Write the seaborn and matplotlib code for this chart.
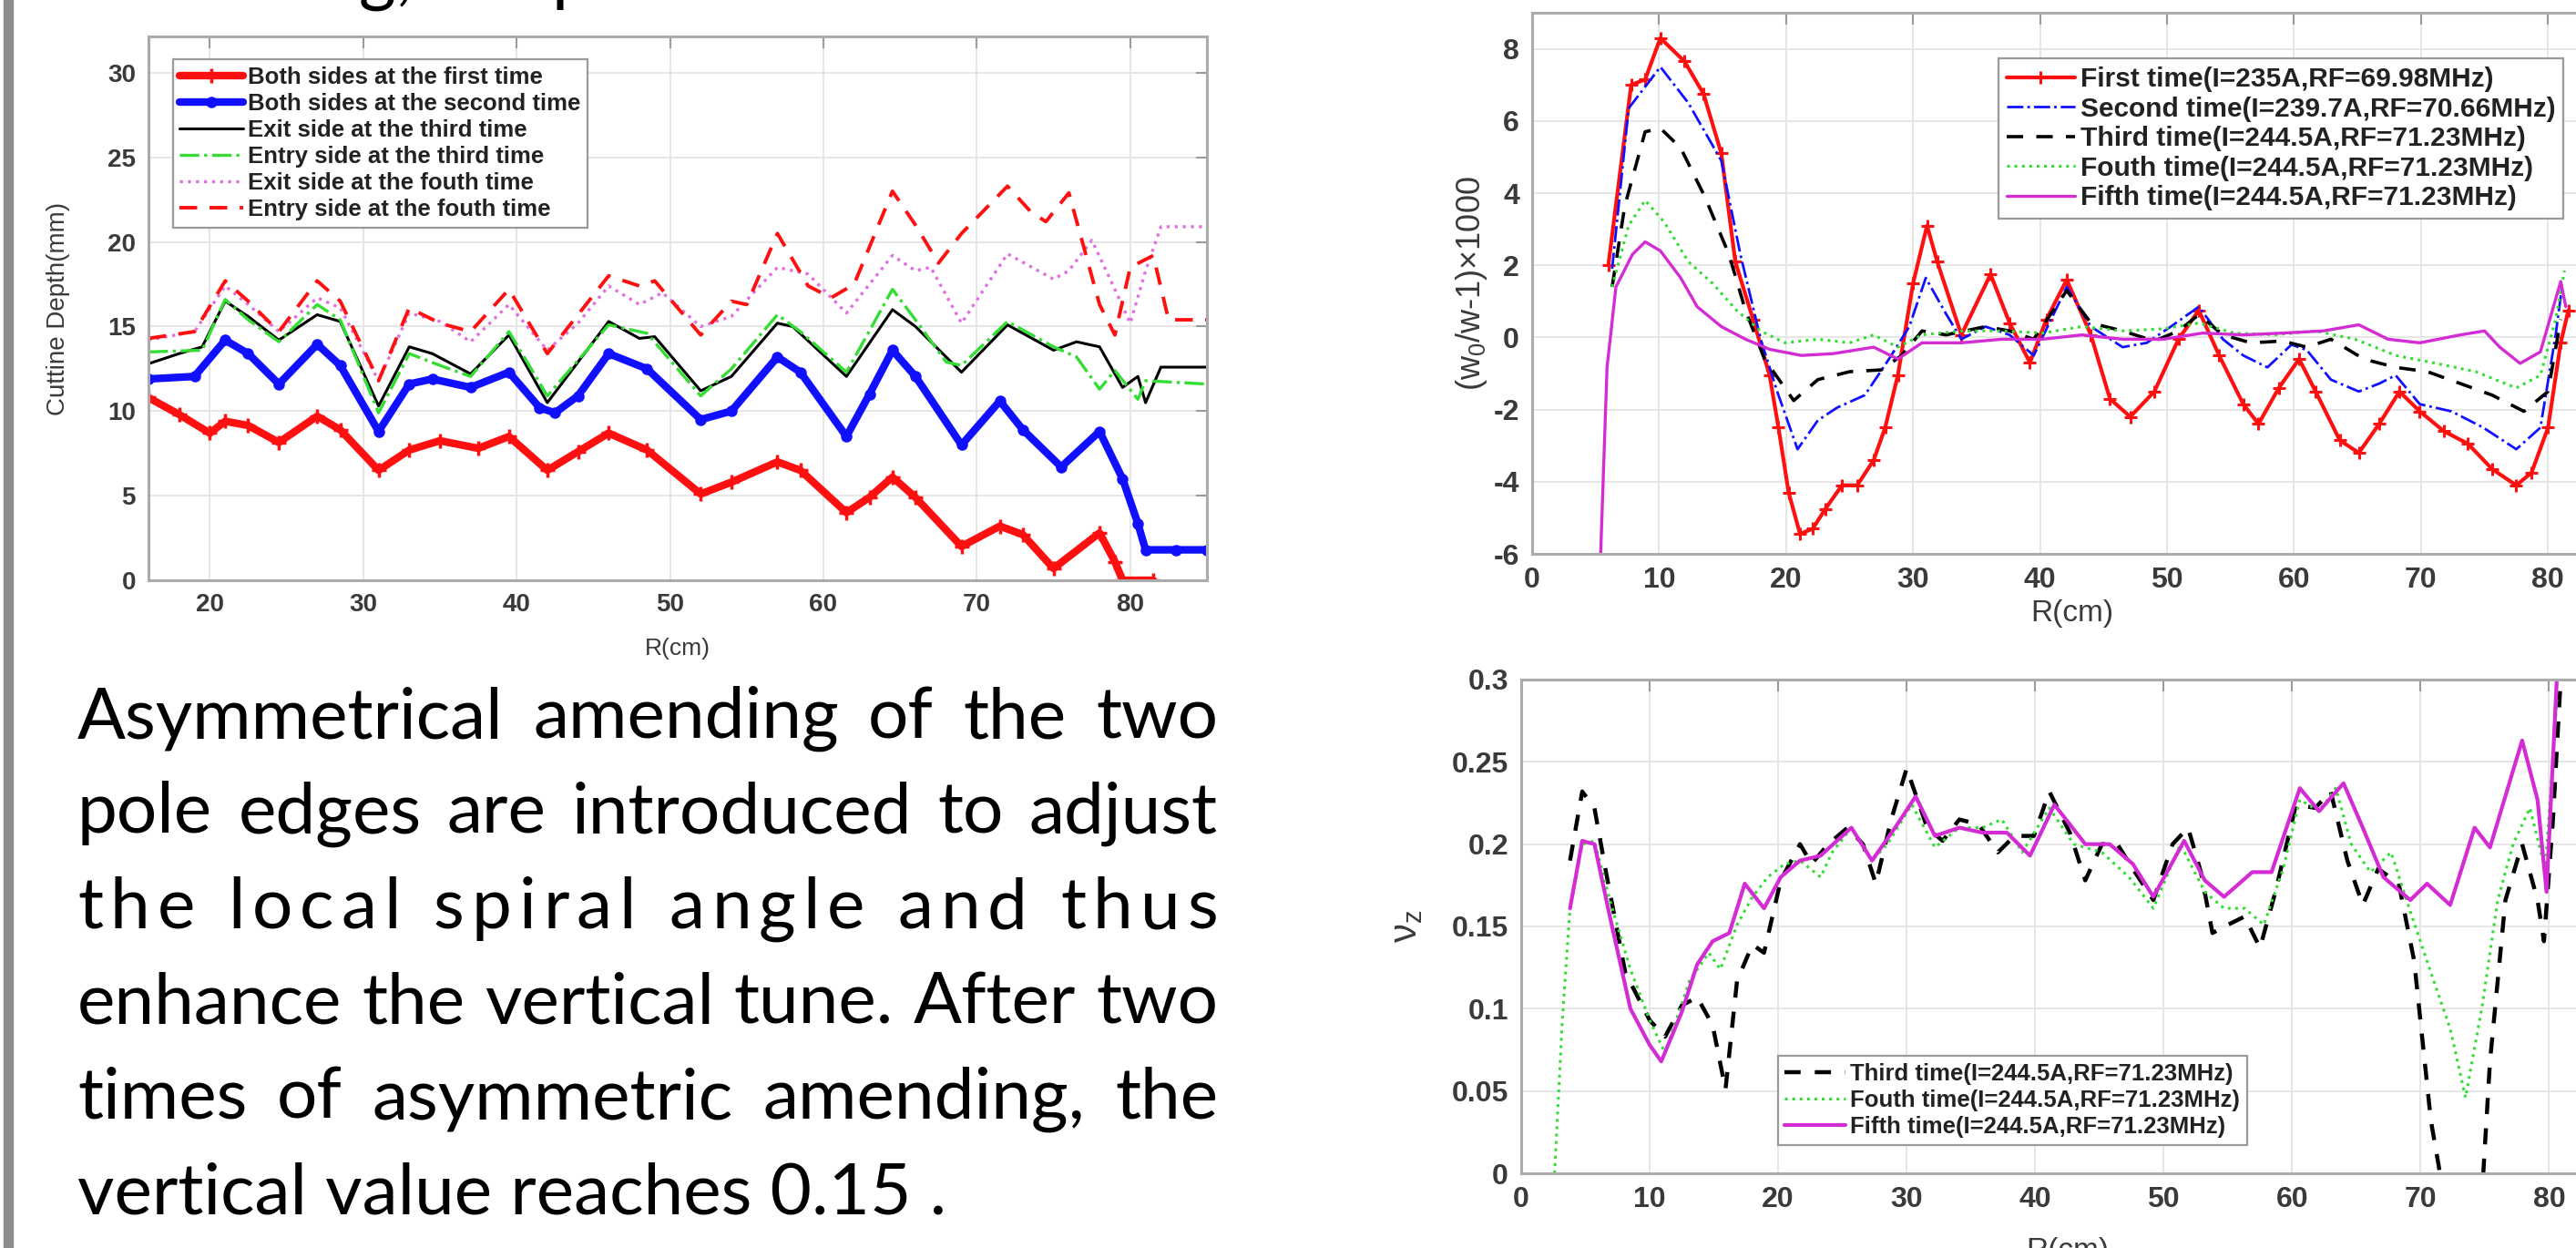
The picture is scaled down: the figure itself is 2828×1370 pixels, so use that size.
"""Cyclotron pole-edge amending slide: cutting depth, isochronism and vertical tune."""

import matplotlib
matplotlib.use("Agg")  # headless rendering
import matplotlib.pyplot as plt
import seaborn as sns
from matplotlib.patches import Rectangle
from matplotlib.ticker import FuncFormatter, MultipleLocator

# ---------------- left chart: cutting depth vs radius ----------------
cut_first_r = [16, 18, 20, 21, 22.5, 24.5, 27, 28.5, 31, 33, 35, 37.5, 39.5, 42, 44, 46, 48.5,
               52, 54, 57, 58.5, 61.5, 63, 64.5, 66, 69, 71.5, 73, 75, 78, 79, 79.5, 81.5]
cut_first_d = [10.8, 9.8, 8.7, 9.4, 9.15, 8.15, 9.7, 8.9, 6.5, 7.7, 8.25, 7.8, 8.5, 6.5, 7.6, 8.7, 7.7,
               5.1, 5.8, 7.0, 6.5, 4.0, 4.9, 6.1, 4.9, 2.0, 3.2, 2.7, 0.7, 2.8, 1.1, 0.0, 0.0]

cut_second_r = [16, 19, 21, 22.5, 24.5, 27, 28.5, 31, 33, 34.5, 37, 39.5, 41.5, 42.5, 44, 46, 48.5,
                52, 54, 57, 58.5, 61.5, 63, 64.5, 66, 69, 71.5, 73, 75.5, 78, 79.5, 80.5, 81, 83, 85]
cut_second_d = [11.9, 12.05, 14.2, 13.4, 11.6, 13.95, 12.7, 8.8, 11.6, 11.9, 11.4, 12.3, 10.2, 9.9, 10.9,
                13.4, 12.5, 9.5, 10.0, 13.2, 12.3, 8.5, 11.0, 13.6, 12.05, 8.0, 10.6, 8.9, 6.7, 8.8,
                6.0, 3.35, 1.8, 1.8, 1.8]

cut_exit3_r = [16, 18, 19.5, 21, 22.5, 24.5, 27, 28.5, 31, 33, 34.5, 37, 39.5, 42, 46, 48, 49,
               52, 54, 57, 58, 61.5, 64.5, 66, 69, 72, 75, 76.5, 78, 79.5, 80.5, 81, 82, 85]
cut_exit3_d = [12.8, 13.4, 13.8, 16.5, 15.6, 14.2, 15.7, 15.3, 10.3, 13.8, 13.4, 12.2, 14.5, 10.5,
               15.3, 14.3, 14.4, 11.2, 12.05, 15.2, 15.0, 12.05, 16.0, 15.0, 12.3, 15.1, 13.6, 14.1,
               13.8, 11.4, 12.05, 10.5, 12.6, 12.6]

cut_entry3_r = [16, 19.5, 21, 22.5, 24.5, 27, 28.5, 31, 33, 35, 37, 39.5, 42, 46, 48.5, 52, 54,
                57, 58.5, 61.5, 64.5, 66, 68, 69, 72, 75, 76.5, 78, 79, 80.5, 81, 85]
cut_entry3_d = [13.5, 13.6, 16.6, 15.4, 14.1, 16.3, 15.4, 9.9, 13.4, 12.7, 12.05, 14.7, 10.9, 15.1,
                14.6, 10.9, 12.5, 15.7, 14.7, 12.3, 17.2, 15.4, 12.9, 12.7, 15.3, 13.8, 13.2, 11.3,
                12.4, 10.7, 11.8, 11.6]

cut_exit4_r = [16, 19, 21, 22.5, 24.5, 27, 28.5, 31, 33, 35, 37, 39.5, 42, 44, 46, 48, 49.5, 52,
               54, 57, 59, 61.5, 64.5, 66, 67, 69, 72, 75, 76, 77.5, 79, 80, 81, 82, 85]
cut_exit4_d = [14.2, 14.7, 17.4, 16.3, 14.7, 16.7, 16.1, 11.8, 15.8, 15.3, 14.1, 16.3, 13.6, 15.2,
               17.4, 16.3, 17.0, 15.0, 15.6, 18.5, 18.1, 15.8, 19.2, 18.3, 18.5, 15.2, 19.3, 17.8,
               18.3, 20.1, 17.2, 15.2, 18.3, 20.9, 20.9]

cut_entry4_r = [16, 19, 21, 22.5, 24.5, 27, 28.5, 31, 33, 35, 37, 39.5, 42, 46, 48, 49, 52, 54, 55,
                57, 59, 60.5, 62, 64.5, 66, 67.5, 69, 72, 73.5, 74.5, 76, 78, 79, 80, 81.5, 82.5, 85]
cut_entry4_d = [14.3, 14.7, 17.7, 16.5, 14.7, 17.7, 16.5, 11.8, 16.1, 15.2, 14.7, 17.2, 13.4, 18.0,
                17.4, 17.7, 14.5, 16.5, 16.3, 20.5, 17.4, 16.7, 17.5, 23.0, 21.0, 18.75, 20.5, 23.3,
                21.8, 21.2, 22.9, 16.3, 14.5, 18.5, 19.2, 15.4, 15.4]

cut_labels = ["Both sides at the first time", "Both sides at the second time",
              "Exit side at the third time", "Entry side at the third time",
              "Exit side at the fouth time", "Entry side at the fouth time"]

# ---------------- right top: (w0/w-1) x 1000 vs radius ----------------
w_first_r = [6.0, 7.8, 8.9, 10.1, 12.0, 13.5, 14.9, 16.0, 17.4, 18.7, 19.4, 20.2, 21.1, 22.1, 23.1,
             24.4, 25.6, 26.9, 27.8, 28.8, 30.0, 31.1, 31.9, 33.8, 36.1, 37.6, 39.2, 40.5, 42.1,
             44.0, 45.5, 47.1, 49.0, 50.9, 52.5, 54.1, 56.0, 57.2, 58.8, 60.4, 61.7, 63.6, 65.1,
             66.7, 68.3, 69.9, 71.8, 73.7, 75.6, 77.5, 78.7, 80.0, 81.0, 81.6]
w_first = [2.0, 7.0, 7.15, 8.3, 7.65, 6.75, 5.1, 2.1, 0.5, -1.05, -2.5, -4.3, -5.45, -5.3, -4.75,
           -4.1, -4.1, -3.4, -2.5, -1.05, 1.5, 3.1, 2.1, 0.07, 1.75, 0.4, -0.7, 0.5, 1.6,
           0.07, -1.7, -2.2, -1.5, -0.05, 0.75, -0.5, -1.85, -2.4, -1.4, -0.6, -1.5, -2.85, -3.2,
           -2.4, -1.5, -2.05, -2.6, -2.95, -3.65, -4.1, -3.75, -2.5, -0.15, 0.75]

w_second_r = [6.3, 7.6, 10.1, 12.3, 14.9, 16.4, 18.0, 19.3, 20.9, 22.5, 24.0, 26.2, 28.1, 29.7,
              31.0, 32.6, 33.8, 35.7, 37.6, 39.5, 42.1, 44.0, 46.5, 48.4, 50.3, 52.5, 54.4, 56.0,
              57.9, 59.8, 61.0, 62.9, 65.1, 66.7, 68.0, 69.9, 72.4, 74.9, 77.5, 79.4, 80.6, 81.1]
w_second = [1.9, 6.35, 7.5, 6.5, 4.9, 2.3, -0.05, -1.5, -3.1, -2.3, -1.95, -1.6, -0.6, 0.3,
            1.65, 0.65, -0.05, 0.3, 0.07, -0.5, 1.4, 0.3, -0.27, -0.15, 0.3, 0.85, -0.05, -0.5,
            -0.83, -0.2, -0.35, -1.17, -1.5, -1.28, -1.05, -1.85, -2.05, -2.5, -3.1, -2.5, 0.07, 1.4]

w_third_r = [6.3, 7.3, 8.9, 10.1, 11.7, 13.6, 15.5, 16.8, 18.3, 20.6, 22.5, 25.0, 27.5, 29.1, 30.7,
             32.6, 35.7, 37.6, 39.5, 42.1, 44.0, 46.5, 49.0, 50.9, 52.5, 54.4, 56.6, 59.1, 61.0,
             62.9, 65.5, 68.0, 70.5, 73.1, 75.6, 78.1, 80.0, 81.0]
w_third = [1.4, 3.65, 5.7, 5.8, 5.25, 3.9, 2.3, 0.75, -0.6, -1.75, -1.17, -0.95, -0.9, -0.5, 0.18,
           0.07, 0.3, 0.18, -0.05, 1.3, 0.4, 0.18, -0.1, 0.18, 0.63, 0.07, -0.15, -0.1, -0.27,
           -0.05, -0.6, -0.83, -0.95, -1.28, -1.6, -2.05, -1.5, 0.5]

w_fourth_r = [6.3, 7.6, 8.9, 10.4, 12.3, 14.2, 16.1, 18.0, 19.9, 22.5, 25.0, 26.9, 28.8, 30.7,
              33.8, 37.0, 40.2, 43.3, 46.5, 49.7, 52.5, 55.3, 58.5, 61.7, 64.8, 68.0, 71.2, 74.3,
              77.5, 79.4, 80.6, 81.3]
w_fourth = [1.4, 3.1, 3.8, 3.2, 2.1, 1.5, 0.75, 0.18, -0.15, -0.05, -0.15, 0.07, -0.27, 0.07,
            0.18, 0.18, 0.12, 0.3, 0.18, 0.24, 0.4, 0.12, 0.07, 0.18, -0.05, -0.5, -0.72, -0.95,
            -1.4, -1.05, 0.5, 1.85]

w_fifth_r = [5.3, 5.9, 6.6, 7.9, 8.9, 10.1, 11.7, 13.0, 14.9, 16.8, 18.7, 21.2, 23.7, 26.9, 28.8,
             30.7, 33.8, 37.0, 40.2, 43.3, 46.5, 49.7, 52.8, 56.0, 59.1, 62.3, 65.1, 67.4, 69.9,
             73.1, 75.0, 76.2, 77.8, 79.4, 81.0, 81.4]
w_fifth = [-7.0, -0.83, 1.4, 2.3, 2.65, 2.4, 1.65, 0.85, 0.3, -0.05, -0.33, -0.5, -0.45, -0.27,
           -0.6, -0.15, -0.15, -0.05, -0.05, 0.07, -0.05, -0.05, 0.12, 0.07, 0.12, 0.18, 0.35,
           -0.05, -0.15, 0.07, 0.18, -0.27, -0.72, -0.4, 1.55, 0.85]

w_labels = ["First time(I=235A,RF=69.98MHz)", "Second time(I=239.7A,RF=70.66MHz)",
            "Third time(I=244.5A,RF=71.23MHz)", "Fouth time(I=244.5A,RF=71.23MHz)",
            "Fifth time(I=244.5A,RF=71.23MHz)"]

# ---------------- right bottom: vertical tune vs radius ----------------
nu_third_r = [3.8, 4.75, 5.7, 6.6, 8.1, 10.0, 11.2, 12.5, 13.7, 14.9, 15.9, 16.8, 18.0, 18.9, 20.2,
              21.7, 22.6, 23.9, 25.4, 26.6, 27.6, 28.8, 30.0, 31.6, 32.8, 34.1, 35.6, 37.1, 38.4,
              39.9, 41.1, 42.7, 43.9, 45.2, 46.4, 47.6, 49.2, 50.7, 51.9, 52.9, 53.8, 55.0, 56.3,
              57.5, 58.7, 60.3, 61.8, 63.0, 64.3, 65.5, 66.7, 68.3, 69.5, 70.8, 71.4, 71.7, 74.8,
              75.4, 76.6, 77.9, 79.1, 79.6, 80.3, 80.9]
nu_third = [0.19, 0.232, 0.222, 0.183, 0.122, 0.093, 0.083, 0.102, 0.107, 0.09, 0.051, 0.117,
            0.139, 0.134, 0.178, 0.2, 0.188, 0.2, 0.21, 0.2, 0.176, 0.215, 0.246, 0.21, 0.202,
            0.215, 0.212, 0.195, 0.205, 0.205, 0.232, 0.207, 0.178, 0.2, 0.2, 0.185, 0.166, 0.2,
            0.21, 0.183, 0.146, 0.151, 0.156, 0.137, 0.171, 0.224, 0.222, 0.232, 0.19, 0.163,
            0.185, 0.176, 0.129, 0.032, 0.005, -0.01, -0.01, 0.068, 0.166, 0.2, 0.166, 0.141,
            0.215, 0.3]

nu_fourth_r = [2.6, 3.2, 3.8, 4.75, 5.7, 6.9, 8.5, 10.0, 11.2, 13.1, 14.6, 15.5, 16.8, 18.0, 19.2,
               20.5, 21.7, 23.3, 24.2, 25.7, 27.3, 28.5, 30.4, 32.2, 34.1, 35.9, 37.4, 39.0, 41.1,
               43.0, 45.2, 47.3, 49.2, 51.3, 53.2, 54.7, 56.3, 57.8, 59.3, 60.6, 62.1, 63.4, 64.6,
               66.1, 67.7, 69.2, 70.8, 72.3, 73.5, 74.8, 76.0, 77.2, 78.5, 79.7, 80.6]
nu_fourth = [0.0, 0.093, 0.161, 0.2, 0.202, 0.166, 0.124, 0.093, 0.073, 0.117, 0.134, 0.124, 0.151,
             0.168, 0.18, 0.188, 0.19, 0.18, 0.195, 0.21, 0.19, 0.2, 0.224, 0.198, 0.21, 0.21,
             0.215, 0.195, 0.222, 0.2, 0.195, 0.18, 0.161, 0.2, 0.171, 0.161, 0.161, 0.151, 0.185,
             0.227, 0.22, 0.234, 0.2, 0.183, 0.195, 0.159, 0.122, 0.088, 0.046, 0.102, 0.166, 0.2,
             0.222, 0.185, 0.288]

nu_fifth_r = [3.8, 4.75, 5.7, 6.9, 8.5, 10.0, 10.9, 12.5, 13.7, 14.9, 16.2, 17.4, 18.9, 20.2, 21.7,
              23.3, 25.7, 27.3, 29.1, 30.7, 32.2, 34.1, 35.9, 37.8, 39.6, 41.5, 43.9, 45.8, 47.6,
              49.2, 51.6, 53.2, 54.7, 56.9, 58.4, 60.6, 62.1, 64.0, 65.5, 67.1, 69.2, 70.5, 72.3,
              74.2, 75.4, 77.9, 79.1, 79.8, 80.6, 80.9]
nu_fifth = [0.161, 0.202, 0.2, 0.156, 0.1, 0.078, 0.068, 0.098, 0.127, 0.141, 0.146, 0.176, 0.161,
            0.18, 0.19, 0.193, 0.21, 0.19, 0.21, 0.229, 0.205, 0.21, 0.207, 0.207, 0.193, 0.224,
            0.2, 0.2, 0.188, 0.168, 0.202, 0.178, 0.168, 0.183, 0.183, 0.234, 0.22, 0.237, 0.21,
            0.18, 0.166, 0.176, 0.163, 0.21, 0.198, 0.263, 0.227, 0.171, 0.3, 0.33]

nu_labels = w_labels[2:]

# ---------------- slide text ----------------
top_fragment = "Amending, the pole"
para_lines = ["Asymmetrical amending  of the two",
              "pole edges are introduced to adjust",
              "the local spiral angle and thus",
              "enhance the vertical tune. After two",
              "times of asymmetric amending, the",
              "vertical value reaches 0.15 ."]
para_modes = ["words", "words", "chars", "words", "words", "left"]

W, H = 2828, 1370
sns.set_style("white")
plt.rcParams["font.family"] = ["Liberation Sans", "DejaVu Sans"]
plt.rcParams["font.weight"] = "bold"
plt.rcParams["mathtext.default"] = "regular"

RED, BLUE, GREEN, MAG = "#ff1010", "#1010ff", "#33dd33", "#d42cd4"
TXT = "#3a3a3a"
fmt = FuncFormatter(lambda v, _: f"{v:g}")

fig = plt.figure(figsize=(W / 100, H / 100), dpi=100)
fig.patch.set_facecolor("white")


def style_axes(ax, xstep, ystep, size):
    ax.xaxis.set_major_locator(MultipleLocator(xstep))
    ax.yaxis.set_major_locator(MultipleLocator(ystep))
    ax.xaxis.set_major_formatter(fmt)
    ax.yaxis.set_major_formatter(fmt)
    ax.grid(True, color="#e4e4e4", lw=1.3)
    ax.set_axisbelow(True)
    ax.tick_params(direction="in", length=9, width=1.5, color="#9a9a9a", top=True, right=True,
                   labelsize=size, labelcolor=TXT, pad=10)
    for s in ax.spines.values():
        s.set_color("#ababab")
        s.set_linewidth(2.2)


def line(ax, r, v, label, **kw):
    sns.lineplot(x=r, y=v, ax=ax, label=label, sort=False, estimator=None, errorbar=None,
                 legend=False, **kw)


def legend(ax, fs, anchor, loc, hl, spacing):
    leg = ax.legend(loc=loc, bbox_to_anchor=anchor, fontsize=fs, frameon=True, fancybox=False,
                    framealpha=1, edgecolor="#9a9a9a", borderaxespad=0, borderpad=0.3,
                    handlelength=hl, handletextpad=0.2, labelspacing=spacing)
    leg.get_frame().set_linewidth(1.6)
    for t in leg.get_texts():
        t.set_color("#222222")


# ---- left: cutting depth ----
ax_cut = fig.add_axes([163 / W, 1 - 637 / H, 1162 / W, 597 / H])
line(ax_cut, cut_first_r, cut_first_d, cut_labels[0], color=RED, lw=6, marker="+", ms=12,
     mew=2.5, markeredgecolor=RED)
line(ax_cut, cut_second_r, cut_second_d, cut_labels[1], color=BLUE, lw=6, marker="o", ms=8,
     mew=1, markeredgecolor=BLUE, markerfacecolor=BLUE)
line(ax_cut, cut_exit3_r, cut_exit3_d, cut_labels[2], color="black", lw=2.2)
line(ax_cut, cut_entry3_r, cut_entry3_d, cut_labels[3], color=GREEN, lw=2.4, linestyle="-.")
line(ax_cut, cut_exit4_r, cut_exit4_d, cut_labels[4], color="#e070e0", lw=2.4, linestyle=":")
line(ax_cut, cut_entry4_r, cut_entry4_d, cut_labels[5], color=RED, lw=2.8,
     linestyle=(0, (5, 3.5)))
ax_cut.set_xlim(16, 85)
ax_cut.set_ylim(0, 32.15)
style_axes(ax_cut, 10, 5, 20)
ax_cut.set_xlabel("R(cm)", fontsize=19, color=TXT)
ax_cut.set_ylabel("Cuttine Depth(mm)", fontsize=20, color=TXT)
ax_cut.xaxis.set_label_coords(0.5, -0.105)
ax_cut.yaxis.set_label_coords(-0.074, 0.5)
legend(ax_cut, 18.5, (0.023, 0.958), "upper left", 2.7, 0.2)

# ---- right top: isochronism ----
ax_w = fig.add_axes([1682 / W, 1 - 608 / H, 1185 / W, 594 / H])
line(ax_w, w_first_r, w_first, w_labels[0], color=RED, lw=3, marker="+", ms=10, mew=2.2,
     markeredgecolor=RED)
line(ax_w, w_second_r, w_second, w_labels[1], color=BLUE, lw=2, linestyle="-.")
line(ax_w, w_third_r, w_third, w_labels[2], color="black", lw=2.6, linestyle=(0, (5, 4)))
line(ax_w, w_fourth_r, w_fourth, w_labels[3], color=GREEN, lw=2.2, linestyle=":")
line(ax_w, w_fifth_r, w_fifth, w_labels[4], color=MAG, lw=2.4)
ax_w.set_xlim(0, 85)
ax_w.set_ylim(-6, 9)
style_axes(ax_w, 10, 2, 23)
ax_w.set_xlabel("R(cm)", fontsize=24, color=TXT)
ax_w.set_ylabel("(w$_0$/w-1)×1000", fontsize=26, color=TXT)
ax_w.xaxis.set_label_coords(0.5, -0.085)
ax_w.yaxis.set_label_coords(-0.04, 0.5)
legend(ax_w, 21.5, (0.432, 0.915), "upper left", 2.5, 0.15)

# ---- right bottom: vertical tune ----
ax_nu = fig.add_axes([1670 / W, 1 - 1288 / H, 1199 / W, 542 / H])
line(ax_nu, nu_third_r, nu_third, nu_labels[0], color="black", lw=3.2, linestyle=(0, (4, 3.5)))
line(ax_nu, nu_fourth_r, nu_fourth, nu_labels[1], color=GREEN, lw=2.2, linestyle=":")
line(ax_nu, nu_fifth_r, nu_fifth, nu_labels[2], color=MAG, lw=3)
ax_nu.set_xlim(0, 85)
ax_nu.set_ylim(0, 0.3)
style_axes(ax_nu, 10, 0.05, 23)
ax_nu.set_xlabel("R(cm)", fontsize=24, color=TXT)
ax_nu.set_ylabel(r"$\nu_z$", fontsize=30, color=TXT)
ax_nu.xaxis.set_label_coords(0.5, -0.13)
ax_nu.yaxis.set_label_coords(-0.088, 0.5)
legend(ax_nu, 18.5, (0.235, 0.057), "lower left", 2.6, 0.2)

# ---- slide decorations and text ----
fig.add_artist(Rectangle((4 / W, 0), 10 / W, 1, transform=fig.transFigure, color="#8c8c8c"))

rend = fig.canvas.get_renderer()
para_kw = dict(family=["Lato", "DejaVu Sans"], fontweight="normal", color="black",
               va="baseline", ha="left")


def text_width(s, size):
    t = fig.text(0, 0, s, fontsize=size, **para_kw)
    w = t.get_window_extent(rend).width
    t.remove()
    return w


x_left, x_right = 85, 1337
# size chosen so the longest line fits the text box with normal word spacing
size = 50 * (x_right - x_left - 8) / text_width(para_lines[3], 50)
space_w = text_width("x x", size) - text_width("xx", size)

# last line of the previous paragraph, only its descenders stay on the slide
fig.text(x_left / W, 1 + 3 / H, top_fragment, fontsize=size, **para_kw)

for i, (txt, mode) in enumerate(zip(para_lines, para_modes)):
    y = 1 - (810 + i * 104.5) / H
    if mode == "left":
        fig.text(x_left / W, y, txt, fontsize=size, **para_kw)
        continue
    parts = list(txt) if mode == "chars" else txt.split()
    widths = [space_w if p == " " else text_width(p, size) for p in parts]
    gap = (x_right - x_left - sum(widths)) / (len(parts) - 1)
    x = x_left
    for p, w in zip(parts, widths):
        if p != " ":
            fig.text(x / W, y, p, fontsize=size, **para_kw)
        x += w + gap

fig.savefig("out.png", dpi=100)
plt.close(fig)
